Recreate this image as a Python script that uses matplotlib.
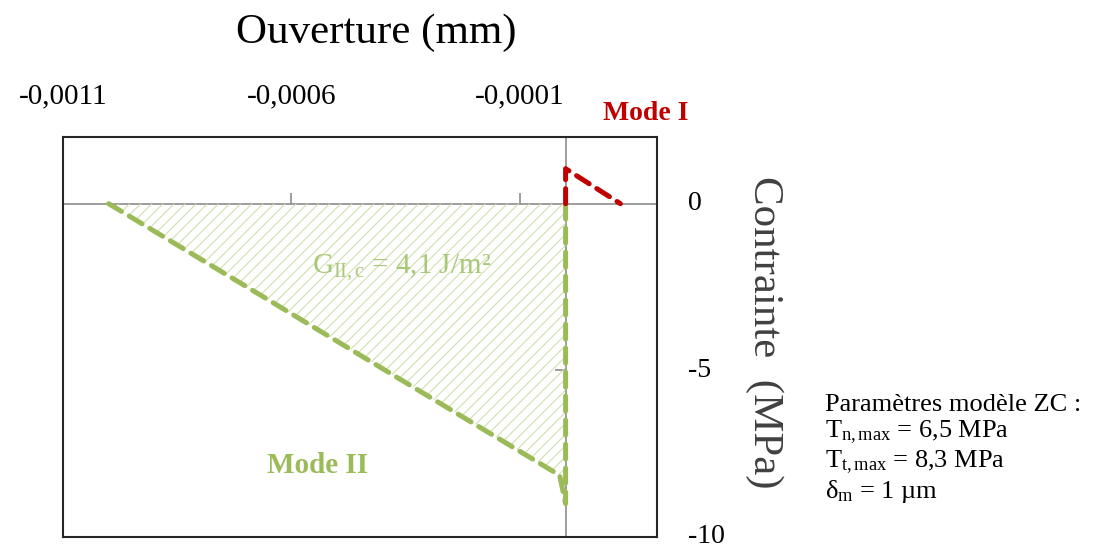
import numpy as np
import matplotlib
matplotlib.use("Agg")
import matplotlib.pyplot as plt

plt.rcParams['font.family'] = ['Liberation Serif', 'DejaVu Serif']
plt.rcParams['mathtext.fontset'] = 'custom'
plt.rcParams['mathtext.rm'] = 'Liberation Serif'
plt.rcParams['mathtext.it'] = 'Liberation Serif:italic'
plt.rcParams['hatch.linewidth'] = 0.8

# data (opening in mm, stress in MPa)
mode1_x = [0.0, 0.0, 0.00012]
mode1_y = [0.0, 1.05, 0.0]
mode2_x = [-0.001, -0.000013, 0.0, 0.0]
mode2_y = [0.0, -8.15, -9.0, 0.0]

x_ticks = [-0.0011, -0.0006, -0.0001]
x_ticklabels = ['-0,0011', '-0,0006', '-0,0001']
y_ticks = [0, -5, -10]
y_ticklabels = ['0', '-5', '-10']

red = '#C00000'
green = '#9BBB59'
hatch_green = '#CFE0B0'
gray = '#8C8C8C'

fig = plt.figure(figsize=(10.99, 5.47), dpi=100)
ax = fig.add_axes([0.0573, 0.0183, 0.5405, 0.7312])

ax.set_xlim(-0.0011, 0.0002)
ax.set_ylim(-10, 2)

# zero lines
ax.axhline(0, color=gray, lw=1.2, zorder=1)
ax.axvline(0, color=gray, lw=1.2, zorder=1)
# small tick marks on the zero lines
ax.plot(x_ticks[1:], [0] * len(x_ticks[1:]), ls='none', marker=2, ms=8, mew=1.2, color=gray, zorder=1)
ax.plot([0], [-5], ls='none', marker=0, ms=8, mew=1.2, color=gray, zorder=1)

# hatched area under mode II curve
ax.fill(mode2_x, mode2_y, facecolor='none', edgecolor=hatch_green, hatch='///', lw=0, zorder=2)

ax.plot(mode2_x, mode2_y, color=green, lw=3.6, dashes=(3, 1.8), dash_capstyle='round', zorder=3)
ax.plot(mode1_x, mode1_y, color=red, lw=3.6, dashes=(3, 1.8), dash_capstyle='round', zorder=4)

# ticks
ax.xaxis.tick_top()
ax.set_xticks(x_ticks)
ax.set_xticklabels(x_ticklabels)
ax.yaxis.tick_right()
ax.set_yticks(y_ticks)
ax.set_yticklabels(y_ticklabels)
ax.tick_params(axis='x', length=0, pad=20, labelsize=21)
ax.tick_params(axis='y', length=0, pad=22, labelsize=20)
for lbl in ax.get_yticklabels():
    lbl.set_verticalalignment('center')

for s in ax.spines.values():
    s.set_color('#262626')
    s.set_linewidth(1.5)

fig.text(0.3427, 0.94, 'Ouverture (mm)', ha='center', va='center', fontsize=31)
fig.text(0.695, 0.393, 'Contrainte  (MPa)', ha='center', va='center', rotation=270, fontsize=31, color='#404040')

ax.text(0.000176, 2.72, 'Mode I', color=red, fontsize=20, fontweight='bold', ha='center', va='center', clip_on=False)
ax.text(-0.000542, -7.87, 'Mode II', color=green, fontsize=21, fontweight='bold', ha='center', va='center')
ax.text(-0.000358, -1.92, r'G$_{\mathrm{II,c}}$ = 4,1 J/m²', color='#A8C878', fontsize=21, ha='center', va='center')

fig.text(0.7507, 0.178,
         'Paramètres modèle ZC :\n'
         r'T$_{\mathrm{n,max}}$ = 6,5 MPa' '\n'
         r'T$_{\mathrm{t,max}}$ = 8,3 MPa' '\n'
         r'δ$_{\mathrm{m}}$ = 1 µm',
         ha='left', va='center', fontsize=19, linespacing=1.12)

fig.savefig('out.png', dpi=100)
